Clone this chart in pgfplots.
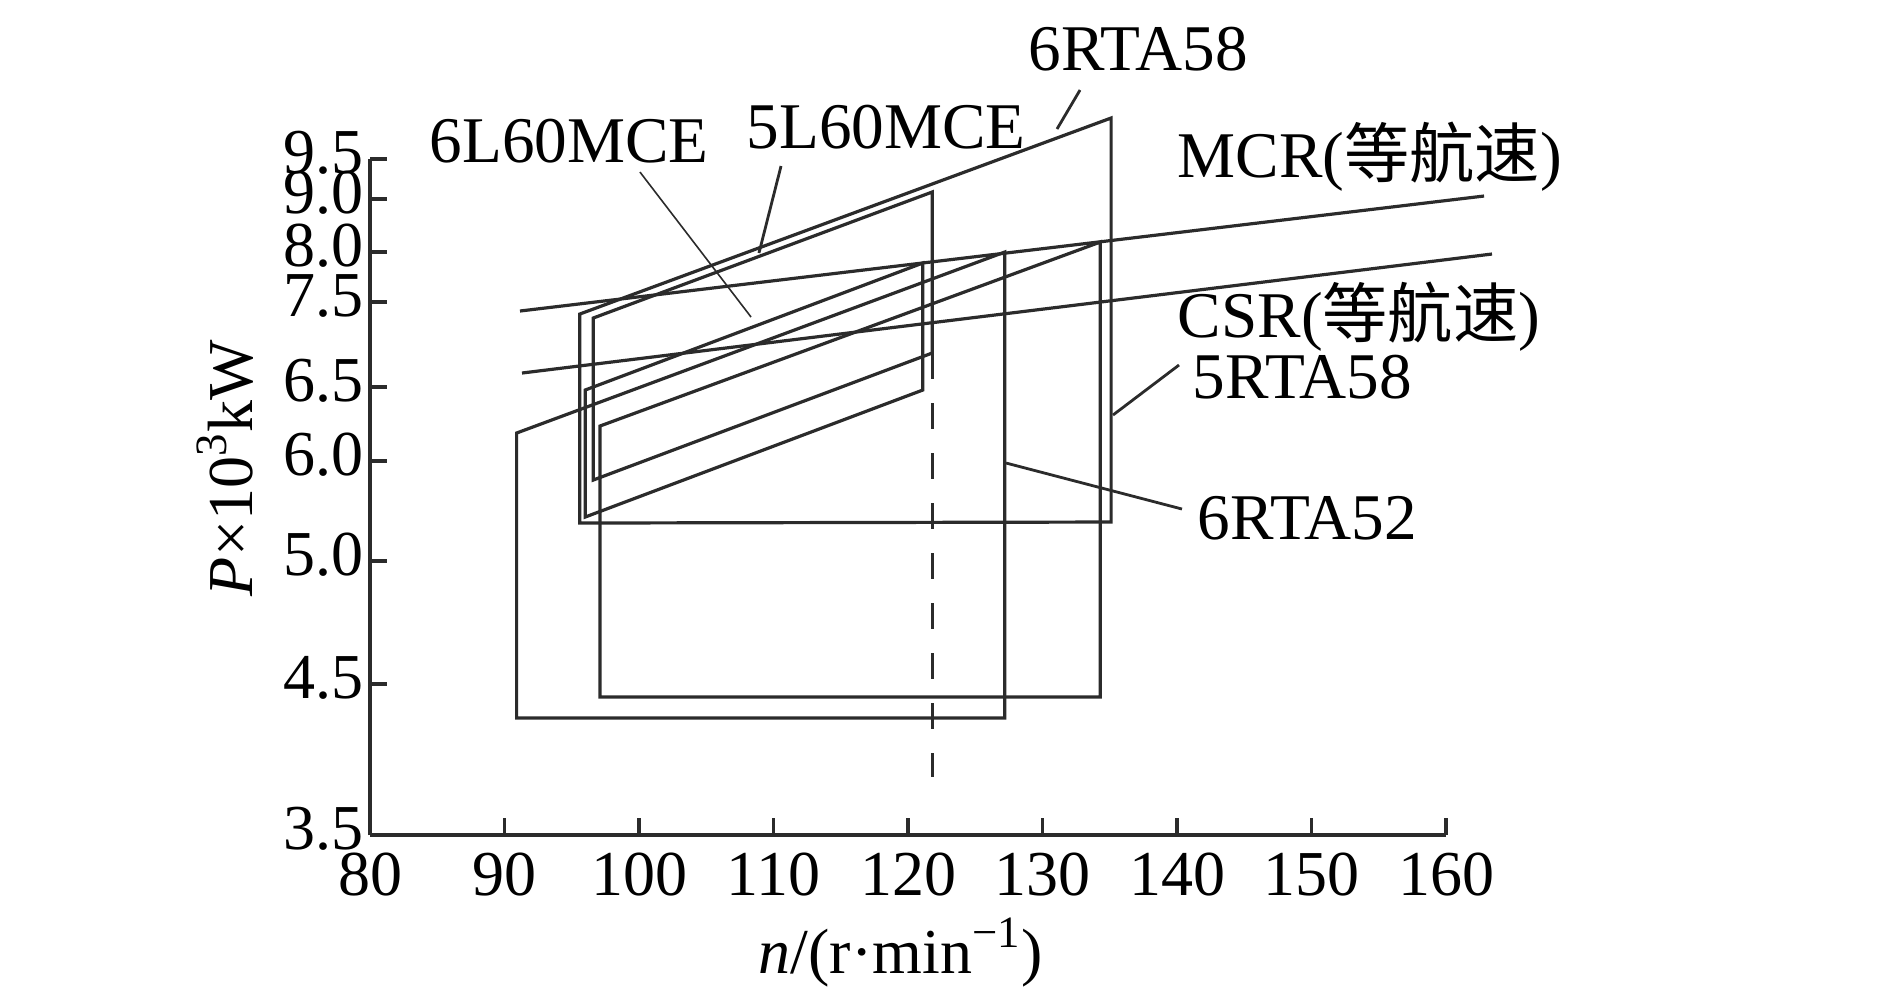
\documentclass[border=0pt]{standalone}
\usepackage{fontspec}
\setmainfont{Liberation Serif}
\newfontfamily\cjk{Noto Sans CJK SC}[Scale=1.0]
\usepackage{pgfplots}
\pgfplotsset{compat=1.18}
\definecolor{ink}{HTML}{2B2B2B}
\tikzset{
  frame/.style={draw=ink, line width=0.8pt, line join=miter},
  leader/.style={draw=ink, line width=0.7pt},
  thinleader/.style={draw=ink, line width=0.4pt},
  tag/.style={font=\fontsize{16.3}{18}\selectfont, inner sep=0pt, anchor=base west}
}

\begin{document}
\begin{tikzpicture}
\path[use as bounding box] (0,0) rectangle (472.5pt,-247.5pt);
\begin{axis}[
  at={(92.5pt,-208.75pt)}, anchor=south west,
  scale only axis, width=269pt, height=169pt,
  xmin=80, xmax=160, ymin=0, ymax=676,
  axis lines=left,
  axis line style={-, line width=1pt, draw=ink},
  clip=false,
  xtick={80,90,...,160},
  % the printed P axis is not uniform: ticks sit at their drawn positions
  ytick={0,151,274,374,448,533,583,636,676},
  yticklabels={3.5,4.5,5.0,6.0,6.5,7.5,8.0,9.0,9.5},
  tick align=inside, major tick length=4.25pt,
  tick style={line width=0.9pt, draw=ink},
  ticklabel style={font=\fontsize{16}{18}\selectfont, text=black},
  /pgf/number format/assume math mode=true,
  yticklabel style={xshift=2pt, yshift=1.5pt},
  xticklabel style={yshift=-1pt},
]
  % engine operating fields
  \addplot[frame] coordinates {(95.6,312) (95.6,521) (135.1,717) (135.1,313)} -- cycle;
  \addplot[frame] coordinates {(96.6,355) (96.6,517) (121.8,643) (121.8,482)} -- cycle;
  \addplot[frame] coordinates {(96.0,318) (96.0,445) (121.1,572) (121.1,445)} -- cycle;
  \addplot[frame] coordinates {(90.9,117) (90.9,402) (127.2,583) (127.2,117)} -- cycle;
  \addplot[frame] coordinates {(97.1,138) (97.1,409) (134.3,593) (134.3,138)} -- cycle;

  % MCR and CSR lines
  \addplot[frame] coordinates {(91.15,524) (162.83,639)};
  \addplot[frame] coordinates {(91.30,462) (163.42,581)};

  % dashed speed line
  \addplot[draw=ink, line width=0.7pt, dash pattern=on 6.5pt off 6pt]
    coordinates {(121.8,482) (121.8,58)};

  % leader lines
  \addplot[leader] coordinates {(132.79,745) (131.08,706)};
  \addplot[leader] coordinates {(110.56,669) (108.92,582)};
  \addplot[thinleader] coordinates {(100.07,663) (108.33,518)};
  \addplot[leader] coordinates {(140.15,470) (135.24,420)};
  \addplot[leader] coordinates {(127.29,372) (140.37,326)};

  \node[tag] at (axis cs:128.92,765) {6RTA58};
  \node[tag] at (axis cs:107.96,687) {5L60MCE};
  \node[tag] at (axis cs:84.39,673) {6L60MCE};
  \node[tag] at (axis cs:140.0,658) {MCR({\cjk 等航速})};
  \node[tag] at (axis cs:140.0,498) {CSR({\cjk 等航速})};
  \node[tag] at (axis cs:141.12,437) {5RTA58};
  \node[tag] at (axis cs:141.49,296) {6RTA52};
\end{axis}
\node[rotate=90, anchor=base, inner sep=0pt, font=\fontsize{16}{18}\selectfont]
  at (63pt,-117pt) {\textit{P}×10\textsuperscript{3}kW};
\node[anchor=base, inner sep=0pt, font=\fontsize{16}{18}\selectfont]
  at (225.25pt,-243.25pt) {\textit{n}/(r·min\textsuperscript{−1})};
\end{tikzpicture}
\end{document}
